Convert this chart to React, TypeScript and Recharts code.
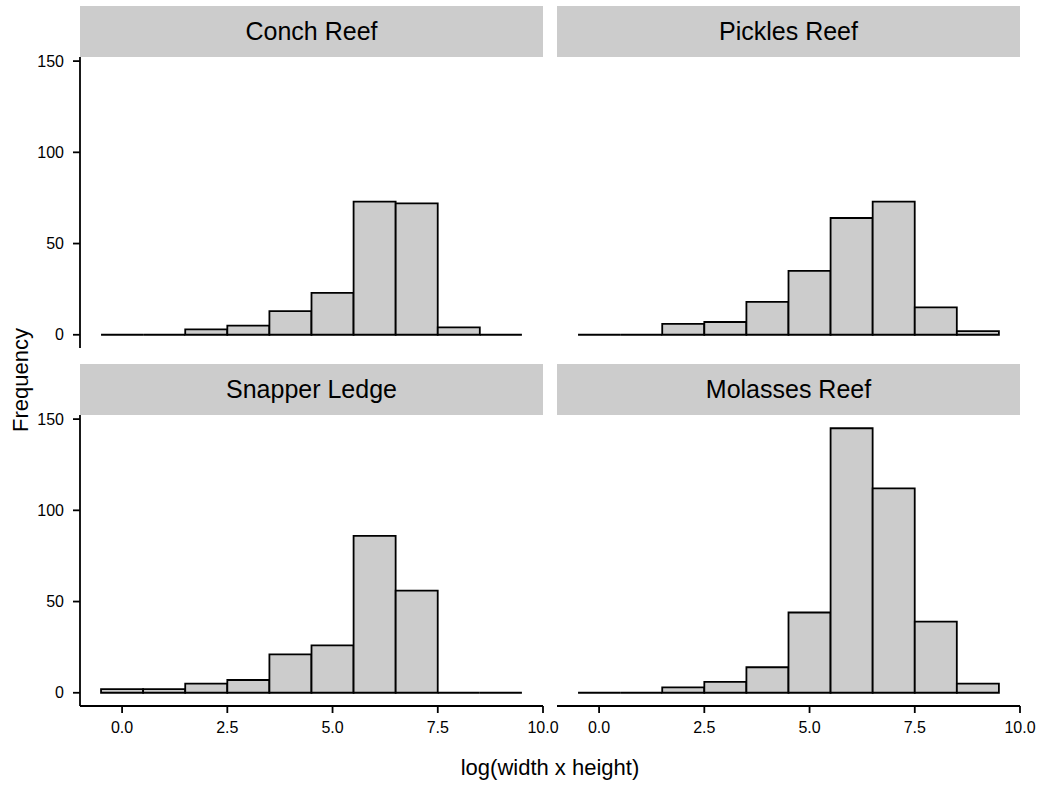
import { Bar, BarChart, XAxis, YAxis } from 'recharts'

// histogram bins: centres of unit-width bins from -0.5 to 9.5
const binMids = [0, 1, 2, 3, 4, 5, 6, 7, 8, 9]
const conchReef = [0, 0, 3, 5, 13, 23, 73, 72, 4, 0]
const picklesReef = [0, 0, 6, 7, 18, 35, 64, 73, 15, 2]
const snapperLedge = [2, 2, 5, 7, 21, 26, 86, 56, 0, 0]
const molassesReef = [0, 0, 3, 6, 14, 44, 145, 112, 39, 5]

const xTicks = [0, 2.5, 5, 7.5, 10]
const yTicks = [0, 50, 100, 150]

const FONT = '"Liberation Sans", Arial, Helvetica, sans-serif'
const PLOT_W = 463
const PLOT_H = 291
const STRIP_H = 51
const RIGHT_PAD = 30
const GREY = '#cccccc'

function HistBar(props: any) {
  const { x, y, width, height } = props
  if (x == null || y == null || width == null) return null
  return (
    <path
      d={`M${x},${y}h${width}v${height}h${-width}Z`}
      fill={GREY}
      stroke="#000"
      strokeWidth={1.8}
    />
  )
}

type PanelProps = {
  title: string
  counts: number[]
  left: number
  top: number
  showX: boolean
  showY: boolean
}

function Panel({ title, counts, left, top, showX, showY }: PanelProps) {
  const data = binMids.map((mid, i) => ({ mid, count: counts[i] }))
  const tickStyle = { fill: '#000', fontSize: 16, fontFamily: FONT }
  const lineStyle = { stroke: '#000', strokeWidth: 1.8 }

  return (
    <>
      <div
        style={{
          position: 'absolute',
          left,
          top: top - STRIP_H,
          width: PLOT_W,
          height: STRIP_H,
          background: GREY,
          display: 'flex',
          alignItems: 'center',
          justifyContent: 'center',
          fontFamily: FONT,
          fontSize: 25,
          color: '#000',
        }}
      >
        {title}
      </div>
      <div style={{ position: 'absolute', left: left - 80, top: top - 10 }}>
        <BarChart
          width={80 + PLOT_W + RIGHT_PAD}
          height={10 + PLOT_H + 50}
          data={data}
          barCategoryGap={0}
          barGap={0}
          margin={{ top: 10, right: RIGHT_PAD, left: showY ? 0 : 80, bottom: showX ? 0 : 50 }}
        >
          <XAxis
            type="number"
            dataKey="mid"
            domain={[-1, 10]}
            ticks={xTicks}
            allowDataOverflow
            hide={!showX}
            height={50}
            tickFormatter={(v) => Number(v).toFixed(1)}
            tickSize={7}
            tickMargin={9}
            tick={tickStyle}
            axisLine={lineStyle}
            tickLine={lineStyle}
          />
          <YAxis
            type="number"
            domain={[-7.25, 152.25]}
            ticks={yTicks}
            allowDataOverflow
            hide={!showY}
            width={80}
            tickSize={7}
            tickMargin={9}
            tick={tickStyle}
            axisLine={lineStyle}
            tickLine={lineStyle}
          />
          <Bar
            dataKey="count"
            barSize={PLOT_W / 11 - 0.05}
            shape={<HistBar />}
            isAnimationActive={false}
          />
        </BarChart>
      </div>
    </>
  )
}

export default function App() {
  return (
    <div
      style={{
        position: 'absolute',
        left: 0,
        top: 0,
        width: 1044,
        height: 786,
        background: '#fff',
        overflow: 'hidden',
      }}
    >
      <Panel title="Conch Reef" counts={conchReef} left={80} top={57} showX={false} showY />
      <Panel title="Pickles Reef" counts={picklesReef} left={557} top={57} showX={false} showY={false} />
      <Panel title="Snapper Ledge" counts={snapperLedge} left={80} top={415} showX showY />
      <Panel title="Molasses Reef" counts={molassesReef} left={557} top={415} showX showY={false} />
      <svg
        width={1044}
        height={786}
        style={{ position: 'absolute', left: 0, top: 0, pointerEvents: 'none' }}
      >
        <text
          x={28}
          y={380}
          transform="rotate(-90 28 380)"
          textAnchor="middle"
          fontFamily={FONT}
          fontSize={22}
          fill="#000"
        >
          Frequency
        </text>
        <text x={550} y={775} textAnchor="middle" fontFamily={FONT} fontSize={22} fill="#000">
          log(width x height)
        </text>
      </svg>
    </div>
  )
}
